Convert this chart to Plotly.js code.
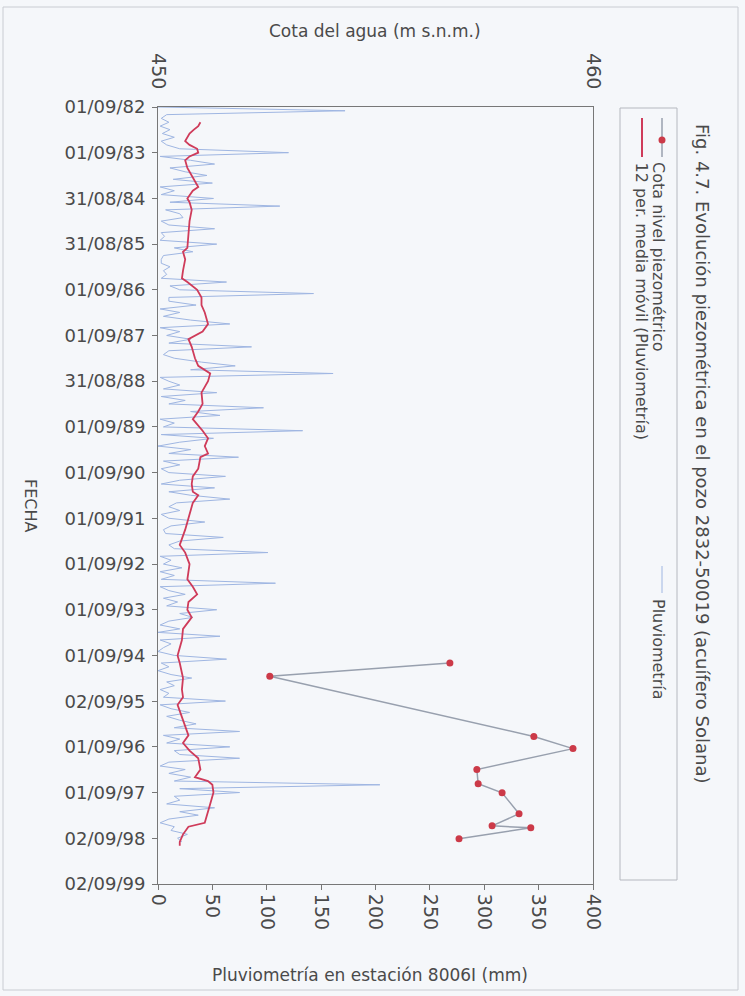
<!DOCTYPE html>
<html><head><meta charset="utf-8">
<script src="https://cdn.plot.ly/plotly-3.0.1.min.js"></script>
<style>html,body{margin:0;padding:0;background:#f5f7fa;} #chart{width:745px;height:996px;}</style>
</head><body><div id="chart"></div>
<script>
// ---- DATA ----
// Monthly rainfall (mm), station 8006I, starting September 1982
const rainStartYear = 1982, rainStartMonth = 9;
const rain = [
0,172,8,3,10,2,11,4,15,3,8,20,
120,2,30,52,11,25,45,14,50,2,15,3,
51,11,112,7,20,23,3,10,52,3,6,2,
54,15,32,5,3,3,11,5,8,3,63,11,
20,143,10,10,35,2,20,5,30,66,2,20,
8,30,10,86,10,5,15,40,71,30,161,2,
10,20,5,54,3,25,10,97,30,57,2,15,
5,133,3,51,20,0,30,10,74,5,20,3,
10,62,20,3,52,10,30,66,17,10,20,3,
10,43,12,5,7,60,20,10,15,101,2,12,
5,22,2,15,3,108,2,10,25,5,18,8,
54,20,32,10,2,20,0,57,2,12,5,0,
15,63,3,10,0,12,31,8,15,2,10,5,
62,2,12,29,8,20,35,15,75,5,20,8,
66,15,20,75,10,2,25,10,30,15,204,20,
75,15,20,8,52,20,37,10,2,15,12,27,
18,22];

// 12-period moving average
const maDates = ['1983-01','1983-02','1983-03','1983-04','1983-06','1983-07','1983-08','1983-09','1983-10','1983-11',
'1984-01','1984-03','1984-06','1984-07','1984-09','1984-10','1984-12','1985-03','1985-06','1985-10','1985-11',
'1986-01','1986-04','1986-06','1986-07','1986-09','1986-11','1987-01','1987-03','1987-06','1987-08','1987-10','1987-12',
'1988-03','1988-05','1988-07','1988-09','1988-12','1989-03','1989-05','1989-07','1989-10','1989-12',
'1990-02','1990-04','1990-05','1990-08','1990-10','1990-12','1991-02','1991-03','1991-05','1991-09','1991-12',
'1992-04','1992-06','1992-09','1993-01','1993-03','1993-05','1993-07','1993-09','1993-11',
'1994-02','1994-05','1994-09','1994-11','1995-03','1995-06','1995-08','1995-10',
'1996-02','1996-06','1996-08','1996-10','1996-12','1997-03','1997-05','1997-06','1997-07','1997-09','1997-12',
'1998-03','1998-05','1998-06','1998-08','1998-10','1998-11'];
const maVals = [39,37,33,29,25,29,36,37,29,25,
27,31,37,32,27,29,31,29,28,27,23,
25,23,22,27,36,40,40,43,46,41,28,31,
34,37,48,46,40,41,37,32,41,46,
43,46,39,37,32,31,32,37,32,28,25,
20,25,29,27,32,36,28,27,31,
23,22,18,20,23,22,23,18,
23,28,23,29,37,39,34,46,50,51,48,
45,43,28,23,20,20];

// Piezometric level (m s.n.m.)
const piezoDates = ['1994-11-01','1995-02-15','1996-06-10','1996-09-15','1997-03-01','1997-06-22','1997-09-03','1998-02-18','1998-05-25','1998-06-10','1998-09-06'];
const piezoVals = [456.71,452.57,458.64,459.54,457.33,457.36,457.91,458.30,457.68,458.57,456.92];

// Date axis ticks
const dateTickVals = ['1982-09-01','1983-09-01','1984-08-31','1985-08-31','1986-09-01','1987-09-01','1988-08-31','1989-09-01','1990-09-01','1991-09-01','1992-09-01','1993-09-01','1994-09-01','1995-09-02','1996-09-01','1997-09-01','1998-09-02','1999-09-02'];
const dateTickText = ['01/09/82','01/09/83','31/08/84','31/08/85','01/09/86','01/09/87','31/08/88','01/09/89','01/09/90','01/09/91','01/09/92','01/09/93','01/09/94','02/09/95','01/09/96','01/09/97','02/09/98','02/09/99'];
const rainTicks = [0,50,100,150,200,250,300,350,400];
const cotaTicks = [450,460];

// ---- build monthly dates for rain ----
const rainDates = rain.map((_, i) => {
  const m0 = rainStartMonth - 1 + i;
  const y = rainStartYear + Math.floor(m0 / 12);
  const m = (m0 % 12) + 1;
  return y + '-' + String(m).padStart(2, '0') + '-01';
});

// ---- layout helpers (pixel -> paper) ----
const PL = 158, PR = 593, PT = 107, PB = 884;
const xp = px => (px - PL) / (PR - PL);
const yp = py => (PB - py) / (PB - PT);

const txt = '#4a4a4a';
const FONT = 'DejaVu Sans';

const traces = [
  {x: rain, y: rainDates, type: 'scatter', mode: 'lines', name: 'Pluviometría',
   line: {color: '#9fb6e2', width: 1}, xaxis: 'x', yaxis: 'y'},
  {x: maVals, y: maDates, type: 'scatter', mode: 'lines', name: '12 per. media móvil (Pluviometría)',
   line: {color: '#cf3b5a', width: 1.8}, xaxis: 'x', yaxis: 'y'},
  {x: piezoVals, y: piezoDates, type: 'scatter', mode: 'lines+markers', name: 'Cota nivel piezométrico',
   line: {color: '#98a0ae', width: 1.5}, marker: {color: '#cc3a48', size: 7},
   xaxis: 'x2', yaxis: 'y'}
];

const layout = {
  width: 745, height: 996,
  margin: {l: PL, r: 745 - PR, t: PT, b: 996 - PB, pad: 0},
  paper_bgcolor: '#f5f7fa', plot_bgcolor: '#f5f7fa',
  showlegend: false,
  font: {family: FONT, color: txt, size: 18},
  xaxis: {range: [0, 400], tickvals: rainTicks, ticktext: rainTicks.map(String), tickangle: 90,
    ticks: 'outside', ticklen: 5, tickcolor: '#777', showline: true, linecolor: '#777', linewidth: 1,
    zeroline: false, showgrid: false, tickfont: {size: 19, color: txt, family: FONT}},
  xaxis2: {overlaying: 'x', side: 'top', range: [450, 460], tickvals: cotaTicks, ticktext: cotaTicks.map(String),
    tickangle: 90, ticks: '', showline: true, linecolor: '#777', linewidth: 1, zeroline: false, showgrid: false,
    ticklabelstandoff: 10, tickfont: {size: 19, color: txt, family: FONT}},
  yaxis: {type: 'date', range: ['1999-09-02', '1982-09-01'], tickvals: dateTickVals, ticktext: dateTickText,
    ticks: 'outside', ticklen: 5, tickcolor: '#777', showline: true, mirror: true, linecolor: '#777', linewidth: 1,
    zeroline: false, showgrid: false, ticklabelstandoff: 3, tickfont: {size: 18, color: txt, family: FONT}},
  shapes: [
    // outer frame
    {type: 'rect', xref: 'paper', yref: 'paper', x0: xp(3), x1: xp(738), y0: yp(990), y1: yp(7),
     line: {color: '#c9ccd2', width: 1}},
    // legend box
    {type: 'rect', xref: 'paper', yref: 'paper', x0: xp(620), x1: xp(677), y0: yp(880), y1: yp(108),
     line: {color: '#b5b8bf', width: 1}},
    // legend symbol: piezometric
    {type: 'line', xref: 'paper', yref: 'paper', x0: xp(662), x1: xp(662), y0: yp(118), y1: yp(157),
     line: {color: '#98a0ae', width: 1.5}},
    {type: 'circle', xref: 'paper', yref: 'paper', x0: xp(658.5), x1: xp(665.5), y0: yp(143.5), y1: yp(136.5),
     fillcolor: '#cc3a48', line: {color: '#cc3a48', width: 0}},
    // legend symbol: moving average
    {type: 'line', xref: 'paper', yref: 'paper', x0: xp(642), x1: xp(642), y0: yp(118), y1: yp(157),
     line: {color: '#cf3b5a', width: 2}},
    // legend symbol: rainfall
    {type: 'line', xref: 'paper', yref: 'paper', x0: xp(662), x1: xp(662), y0: yp(566), y1: yp(593),
     line: {color: '#9fb6e2', width: 1}}
  ],
  annotations: [
    {text: 'Cota del agua (m s.n.m.)', xref: 'paper', yref: 'paper', x: xp(375), y: yp(31),
     xanchor: 'center', yanchor: 'middle', showarrow: false, font: {size: 17, color: txt, family: FONT}},
    {text: 'Pluviometría en estación 8006I (mm)', xref: 'paper', yref: 'paper', x: xp(370), y: yp(975),
     xanchor: 'center', yanchor: 'middle', showarrow: false, font: {size: 17, color: txt, family: FONT}},
    {text: 'FECHA', xref: 'paper', yref: 'paper', x: xp(31), y: yp(506), textangle: 90,
     xanchor: 'center', yanchor: 'middle', showarrow: false, font: {size: 16, color: txt, family: FONT}},
    {text: 'Fig. 4.7. Evolución piezométrica en el pozo 2832-50019 (acuífero Solana)', xref: 'paper', yref: 'paper',
     x: xp(703), y: yp(122), textangle: 90, xanchor: 'center', yanchor: 'top', showarrow: false,
     font: {size: 18, color: txt, family: FONT}},
    {text: 'Cota nivel piezométrico', xref: 'paper', yref: 'paper', x: xp(659), y: yp(160), textangle: 90,
     xanchor: 'center', yanchor: 'top', showarrow: false, font: {size: 16, color: txt, family: FONT}},
    {text: '12 per. media móvil (Pluviometría)', xref: 'paper', yref: 'paper', x: xp(641), y: yp(160), textangle: 90,
     xanchor: 'center', yanchor: 'top', showarrow: false, font: {size: 16, color: txt, family: FONT}},
    {text: 'Pluviometría', xref: 'paper', yref: 'paper', x: xp(659), y: yp(597), textangle: 90,
     xanchor: 'center', yanchor: 'top', showarrow: false, font: {size: 16, color: txt, family: FONT}}
  ]
};

Plotly.newPlot('chart', traces, layout, {displayModeBar: false, staticPlot: true});
</script>
</body></html>
